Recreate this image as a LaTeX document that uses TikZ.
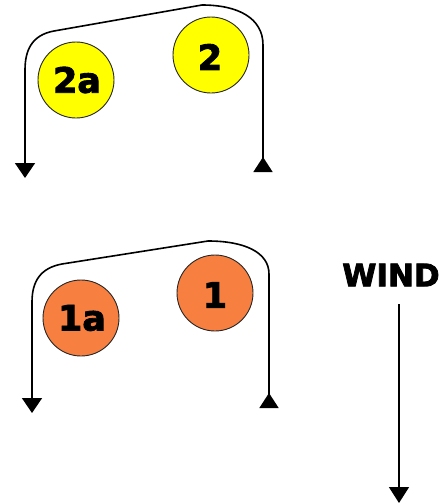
\documentclass[tikz,border=0pt]{standalone}
\usepackage{fontspec}
\newfontfamily\lblfont[FakeBold=2.5]{DejaVu Sans Bold}
\usetikzlibrary{arrows.meta}
\definecolor{cyel}{RGB}{255,255,0}
\definecolor{corg}{RGB}{247,127,64}
\tikzset{
  ball/.style={circle, draw=black!85, line width=0.9pt, minimum size=76pt, inner sep=0pt},
  balllbl/.style={font=\lblfont\fontsize{35}{35}\selectfont, inner sep=0pt},
  flow/.style={line width=1.6pt, {Triangle[reversed,length=15pt,width=19pt]}-{Triangle[length=15pt,width=20pt]}},
  windarrow/.style={line width=1.6pt, -{Triangle[length=16pt,width=20pt]}}
}
\begin{document}
\begin{tikzpicture}[x=1pt,y=-1pt]
\useasboundingbox (0,0) rectangle (445,504);
% top group
\node[ball, fill=cyel] (c2a) at (76,80) {};
\node[balllbl] (t2a) at (77,80) {2a};
\node[ball, fill=cyel] (c2) at (211,55) {};
\node[balllbl] (t2) at (210,57) {2};
\coordinate (a1) at (263,172);
\coordinate (a2) at (263,45);
\coordinate (a3) at (202,5);
\coordinate (a4) at (54,31);
\coordinate (a5) at (25,70);
\coordinate (a6) at (25,178);
\draw[flow] (a1) -- (a2) .. controls (263,18) and (238,5) .. (a3) -- (a4) .. controls (32,35) and (25,50) .. (a5) -- (a6);
% bottom group
\node[ball, fill=corg] (c1a) at (81,318) {};
\node[balllbl] (t1a) at (82,318) {1a};
\node[ball, fill=corg] (c1) at (215,293) {};
\node[balllbl] (t1) at (215,295) {1};
\coordinate (b1) at (269,408);
\coordinate (b2) at (269,274);
\coordinate (b3) at (208,241);
\coordinate (b4) at (62,264);
\coordinate (b5) at (32,302);
\coordinate (b6) at (32,413);
\draw[flow] (b1) -- (b2) .. controls (269,252) and (244,241) .. (b3) -- (b4) .. controls (40,268) and (32,282) .. (b5) -- (b6);
% wind
\node[font=\lblfont\fontsize{31}{31}\selectfont, inner sep=0pt] (wind) at (391,275) {WIND};
\coordinate (w1) at (399,304);
\coordinate (w2) at (399,503);
\draw[windarrow] (w1) -- (w2);
\end{tikzpicture}
\end{document}
